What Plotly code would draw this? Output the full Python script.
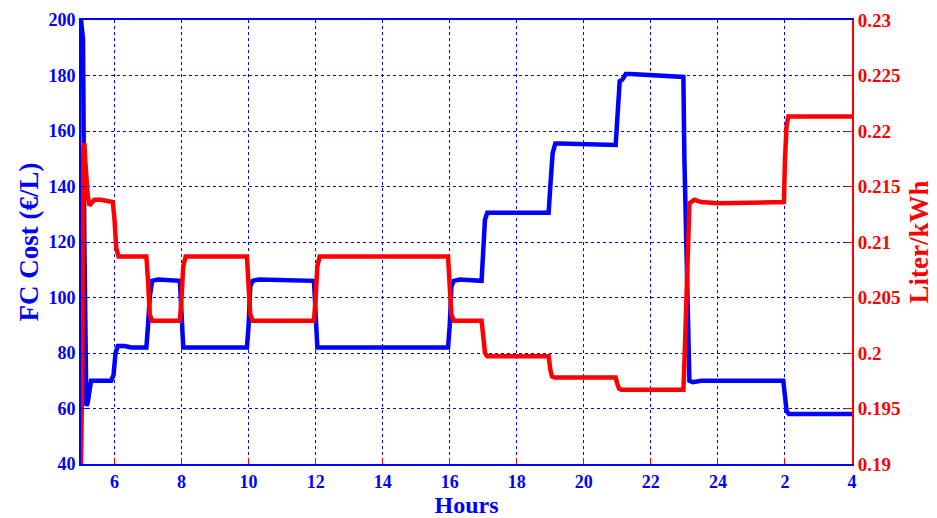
import plotly.graph_objects as go

# ---- data ----
fc_hours = [5.0, 5.03, 5.06, 5.1, 5.13, 5.16, 5.2, 5.25, 5.3, 5.5, 5.9, 5.97, 6.03, 6.1, 6.3, 6.5, 6.95,
            7.0, 7.05, 7.12, 7.3, 7.95, 8.0, 8.05, 8.12, 9.95, 10.0, 10.05, 10.12, 10.3, 11.95, 12.0, 12.05,
            12.12, 15.95, 16.0, 16.05, 16.12, 16.3, 16.95, 17.0, 17.05, 17.12, 17.3, 18.95, 19.0, 19.07,
            19.15, 19.3, 20.95, 21.0, 21.07, 21.15, 21.25, 21.4, 22.0, 22.97, 23.0, 23.03, 23.06, 23.1,
            23.15, 23.25, 23.5, 25.95, 26.0, 26.05, 26.12, 28.0]
fc_cost = [200, 195, 193, 120, 64, 61, 62, 66, 70, 70, 70, 72, 80, 82.5, 82.5, 82, 82,
           90, 100, 106, 106.5, 106, 90, 82, 82, 82, 90, 104, 106, 106.5, 106, 90, 82,
           82, 82, 90, 104, 106, 106.5, 106, 115, 128, 130.5, 130.5, 130.5, 140, 152,
           155.5, 155.5, 155, 165, 178, 178.5, 180.5, 180.5, 180, 179.5, 150, 133, 110, 85,
           70, 69.5, 70, 70, 65, 59, 58, 58]

lk_hours = [5.0, 5.04, 5.07, 5.1, 5.13, 5.16, 5.2, 5.25, 5.3, 5.4, 5.6, 5.95, 6.0, 6.05, 6.12,
            6.95, 7.0, 7.05, 7.12, 7.95, 8.0, 8.05, 8.12, 9.95, 10.0, 10.05, 10.12, 11.95, 12.0, 12.05,
            12.12, 15.95, 16.0, 16.05, 16.12, 16.95, 17.0, 17.05, 17.12, 18.95, 19.0, 19.05, 19.12,
            20.95, 21.0, 21.05, 21.12, 22.97, 23.0, 23.05, 23.1, 23.15, 23.3, 23.5, 24.0, 24.6,
            25.97, 26.0, 26.05, 26.1, 28.0]
lk_rate = [0.19, 0.199, 0.2185, 0.2189, 0.2172, 0.2155, 0.2142, 0.2133, 0.2135, 0.2138, 0.2138,
           0.2136, 0.212, 0.2095, 0.2087, 0.2087, 0.2065, 0.2035, 0.2029, 0.2029, 0.205, 0.2078,
           0.2087, 0.2087, 0.206, 0.2035, 0.2029, 0.2029, 0.205, 0.2078, 0.2087, 0.2087, 0.206,
           0.2035, 0.2029, 0.2029, 0.2015, 0.2, 0.1997, 0.1997, 0.1985, 0.1979, 0.1978, 0.1978,
           0.1972, 0.1968, 0.1967, 0.1967, 0.199, 0.205, 0.211, 0.2135, 0.2138, 0.2136, 0.2135,
           0.2135, 0.2136, 0.2175, 0.2205, 0.2213, 0.2213]

x_ticks = [6, 8, 10, 12, 14, 16, 18, 20, 22, 24, 26, 28]
x_tick_labels = ["6", "8", "10", "12", "14", "16", "18", "20", "22", "24", "2", "4"]
left_ticks = [40, 60, 80, 100, 120, 140, 160, 180, 200]
right_ticks = [0.19, 0.195, 0.2, 0.205, 0.21, 0.215, 0.22, 0.225, 0.23]
right_tick_labels = ["0.19", "0.195", "0.2", "0.205", "0.21", "0.215", "0.22", "0.225", "0.23"]

BLUE = "#0000ff"
RED = "#ff0000"
FONT = "Liberation Serif"

fig = go.Figure()
fig.add_trace(go.Scatter(x=fc_hours, y=fc_cost, mode="lines",
                         line=dict(color=BLUE, width=4.5), yaxis="y", showlegend=False))
fig.add_trace(go.Scatter(x=lk_hours, y=lk_rate, mode="lines",
                         line=dict(color=RED, width=4.5), yaxis="y2", showlegend=False))

fig.update_layout(
    width=937, height=518,
    margin=dict(l=81, r=85, t=20, b=54),
    paper_bgcolor="white", plot_bgcolor="white",
    font=dict(family=FONT, size=18),
    xaxis=dict(range=[5, 28], tickvals=x_ticks, ticktext=x_tick_labels, automargin=False,
               showgrid=True, gridcolor=BLUE, griddash="dot", gridwidth=1,
               showline=True, linecolor=BLUE, linewidth=2, mirror=True,
               ticks="inside", ticklen=6, tickcolor=RED,
               tickfont=dict(family=FONT, size=18, color=BLUE, weight="bold"),
               title=dict(text="<b>Hours</b>", font=dict(family=FONT, size=24, color=BLUE), standoff=0),
               zeroline=False),
    yaxis=dict(range=[40, 200], tickvals=left_ticks, automargin=False,
               showgrid=True, gridcolor=BLUE, griddash="dot", gridwidth=1,
               showline=True, linecolor=BLUE, linewidth=2,
               ticks="inside", ticklen=6, tickcolor=BLUE,
               tickfont=dict(family=FONT, size=18, color=BLUE, weight="bold"),
               title=dict(text="<b>FC Cost (€/L)</b>", font=dict(family=FONT, size=27, color=BLUE), standoff=2),
               zeroline=False),
    yaxis2=dict(range=[0.19, 0.23], tickvals=right_ticks, ticktext=right_tick_labels, automargin=False,
                overlaying="y", side="right", showgrid=False,
                showline=True, linecolor=RED, linewidth=2,
                ticks="inside", ticklen=6, tickcolor=RED,
                tickfont=dict(family=FONT, size=19, color=RED, weight="bold"),
                title=dict(text="<b>Liter/kWh</b>", font=dict(family=FONT, size=27, color=RED), standoff=10),
                zeroline=False),
)

fig.write_html("out.html")
